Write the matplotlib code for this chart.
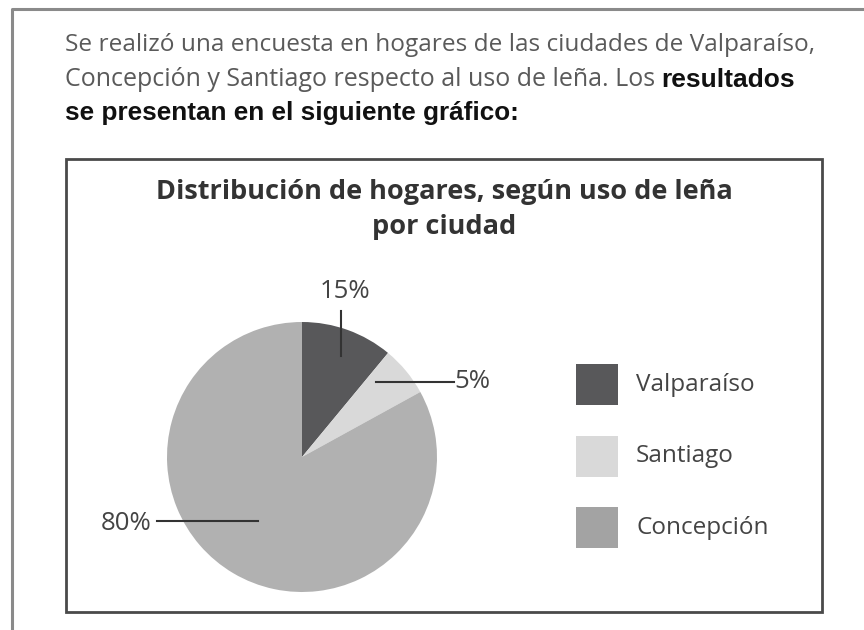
import matplotlib
matplotlib.use("Agg")
import matplotlib.pyplot as plt
import numpy as np
from matplotlib.patches import Rectangle

# Data (drawn slice sizes as they appear, printed labels as shown)
cities = ['Valparaíso', 'Santiago', 'Concepción']
drawn_share = [11, 6, 83]
printed_labels = ['15%', '5%', '80%']
pie_colors = ['#58585a', '#d9d9d9', '#b1b1b1']
legend_colors = ['#58585a', '#d9d9d9', '#a3a3a3']

W, H = 864, 630
fig = plt.figure(figsize=(8.64, 6.3), dpi=100)
ax = fig.add_axes([0, 0, 1, 1])
ax.set_xlim(0, W)
ax.set_ylim(0, H)
ax.axis('off')

def Y(y):
    # convert from top-down pixel position
    return H - y

# outer page frame
ax.plot([12, 12, W], [Y(H), Y(9), Y(9)], color='#8a8a8a', lw=2.2, solid_capstyle='butt')

# intro text
gray = '#5a5a5a'
sans = 'Open Sans'
ax.text(65, Y(45), 'Se realizó una encuesta en hogares de las ciudades de Valparaíso,',
        fontsize=17.6, color=gray, family=sans, va='center')
t2 = ax.text(65, Y(79), 'Concepción y Santiago respecto al uso de leña. Los ',
             fontsize=18, color=gray, family=sans, va='center')
fig.canvas.draw()
r = fig.canvas.get_renderer()
bb = t2.get_window_extent(r)
ax.text(bb.x1, Y(80), 'resultados', fontsize=19, color='#111111',
        family='Liberation Sans', weight='bold', va='center')
ax.text(65, Y(113), 'se presentan en el siguiente gráfico:', fontsize=18.8, color='#111111',
        family='Liberation Sans', weight='bold', va='center')

# chart box
ax.add_patch(Rectangle((66, Y(612)), 822 - 66, 612 - 159, fill=False,
                       edgecolor='#4a4a4a', lw=2))

ax.text(444, Y(192), 'Distribución de hogares, según uso de leña', fontsize=19.5,
        weight='bold', color='#333333', family=sans, ha='center', va='center')
ax.text(444, Y(227), 'por ciudad', fontsize=19.5, weight='bold', color='#333333',
        family=sans, ha='center', va='center')

# pie
cx, cy, R = 302, Y(457), 135
ax.pie(drawn_share, colors=pie_colors, startangle=90, counterclock=False,
       center=(cx, cy), radius=R, wedgeprops=dict(linewidth=0))
ax.set_xlim(0, W)
ax.set_ylim(0, H)
ax.set_aspect('equal')

# labels with leader lines
lab_color = '#444444'
ax.plot([341, 341], [Y(356), Y(311)], color='#333333', lw=1.5)
ax.text(345, Y(292), printed_labels[0], fontsize=18.5, color=lab_color, family=sans,
        ha='center', va='center')
ax.plot([376, 454], [Y(382), Y(382)], color='#333333', lw=1.5)
ax.text(454, Y(381), printed_labels[1], fontsize=18.5, color=lab_color, family=sans,
        ha='left', va='center')
ax.plot([157, 258], [Y(521), Y(521)], color='#333333', lw=1.5)
ax.text(152, Y(523), printed_labels[2], fontsize=18.5, color=lab_color, family=sans,
        ha='right', va='center')

# legend
for i, (name, col) in enumerate(zip(cities, legend_colors)):
    top = 364 + i * 71.5
    ax.add_patch(Rectangle((576, Y(top + 41)), 42, 41, facecolor=col, edgecolor='none'))
    ax.text(636, Y(top + 21), name, fontsize=17.5, color='#444444', family=sans,
            ha='left', va='center')

fig.savefig('out.png', dpi=100, facecolor='white')
